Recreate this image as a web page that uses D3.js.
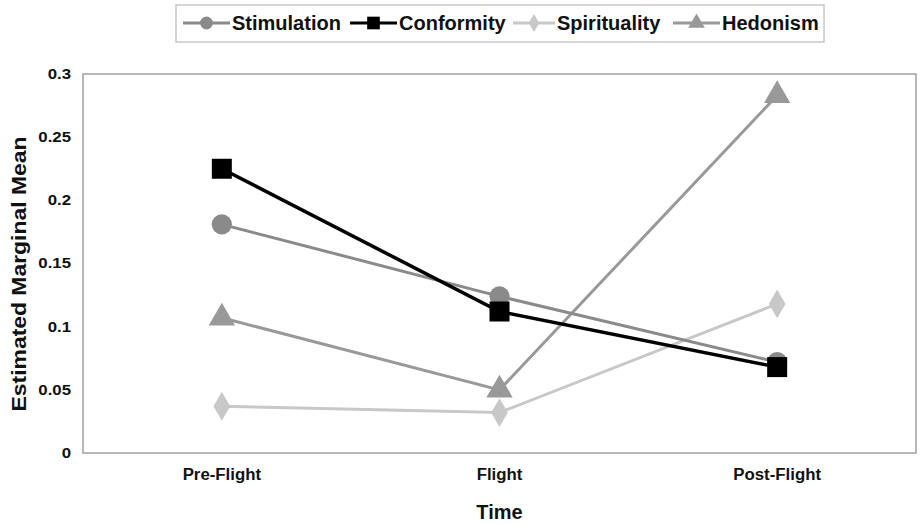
<!DOCTYPE html>
<html><head><meta charset="utf-8">
<script src="https://cdn.jsdelivr.net/npm/d3@7"></script>
<style>body{margin:0;background:#fff}svg{display:block;font-family:"Liberation Sans",Arial,sans-serif}</style>
</head><body><svg id="c" width="922" height="524"></svg>
<script>
const categories = ["Pre-Flight","Flight","Post-Flight"];
const seriesNames = ["Stimulation","Conformity","Spirituality","Hedonism"];
const stimulation = [0.181,0.124,0.072];
const conformity = [0.225,0.112,0.068];
const spirituality = [0.037,0.032,0.118];
const hedonism = [0.107,0.050,0.283];
const yTicks = [0,0.05,0.1,0.15,0.2,0.25,0.3];
const yTickLabels = ["0","0.05","0.1","0.15","0.2","0.25","0.3"];

const series = [
  {name:seriesNames[0], values:stimulation, color:"#8a8a8a", symbol:d3.symbolCircle, size:320},
  {name:seriesNames[1], values:conformity, color:"#000000", symbol:d3.symbolSquare, size:400},
  {name:seriesNames[2], values:spirituality, color:"#c8c8c8", symbol:d3.symbolDiamond, size:240},
  {name:seriesNames[3], values:hedonism, color:"#999999", symbol:d3.symbolTriangle, size:300}
];

const svg = d3.select("#c");
const m = {l:83, r:916, t:74, b:453};
const x = d3.scaleBand().domain(categories).range([m.l, m.r]);
const y = d3.scaleLinear().domain([0,0.3]).range([m.b, m.t]);

function stretch(sel, f){
  sel.each(function(){
    const w = this.getComputedTextLength();
    d3.select(this).attr("textLength", w*f).attr("lengthAdjust","spacingAndGlyphs");
  });
}

// frame
svg.append("rect").attr("x",m.l).attr("y",m.t).attr("width",m.r-m.l).attr("height",m.b-m.t)
  .attr("fill","none").attr("stroke","#a0a0a0").attr("stroke-width",1.5);

// y axis labels
const yAxis = d3.axisLeft(y).tickValues(yTicks).tickFormat((d,i)=>yTickLabels[i]).tickSize(0).tickPadding(12);
const ya = svg.append("g").attr("transform",`translate(${m.l},0)`).call(yAxis);
ya.select(".domain").remove();
ya.selectAll("text").attr("font-size",14).attr("font-weight","bold").attr("fill","#111").attr("font-family","Liberation Sans, Arial, sans-serif");
stretch(ya.selectAll("text"),1.2);

// x axis labels
const xAxis = d3.axisBottom(x).tickSize(0).tickPadding(16);
const xa = svg.append("g").attr("transform",`translate(0,${m.b})`).call(xAxis);
xa.select(".domain").remove();
xa.selectAll("text").attr("font-size",16).attr("font-weight","bold").attr("fill","#111").attr("font-family","Liberation Sans, Arial, sans-serif");
stretch(xa.selectAll("text"),1.05);

// titles
svg.append("text").attr("x",x("Flight")+x.bandwidth()/2).attr("y",519).attr("text-anchor","middle")
  .attr("font-size",20).attr("font-weight","bold").attr("fill","#111").text("Time");
const yt = svg.append("text").attr("transform",`translate(26,274) rotate(-90)`).attr("text-anchor","middle")
  .attr("font-size",20).attr("font-weight","bold").attr("fill","#111").text("Estimated Marginal Mean");
yt.attr("textLength",275).attr("lengthAdjust","spacingAndGlyphs");

// lines
const line = d3.line().x((d,i)=>x(categories[i])+x.bandwidth()/2).y(d=>y(d));
const drawOrder = [2,3,0,1];
drawOrder.forEach(k=>{
  const s = series[k];
  svg.append("path").datum(s.values).attr("d",line).attr("fill","none")
    .attr("stroke",s.color).attr("stroke-width",k===1?3.5:3);
});
drawOrder.forEach(k=>{
  const s = series[k];
  svg.selectAll(null).data(s.values).enter().append("path")
    .attr("d",d3.symbol().type(s.symbol).size(s.size))
    .attr("transform",(d,i)=>`translate(${x(categories[i])+x.bandwidth()/2},${y(d)})`)
    .attr("fill",s.color);
});

// legend
const lg = svg.append("g");
lg.append("rect").attr("x",176).attr("y",5).attr("width",648).attr("height",37)
  .attr("fill","#fff").attr("stroke","#c8c8c8").attr("stroke-width",1.5);
const legX = [183,350,513,673];
const legW = [47,47,42,47];
series.forEach((s,i)=>{
  const g = lg.append("g").attr("transform",`translate(${legX[i]},23)`);
  g.append("line").attr("x1",0).attr("x2",legW[i]).attr("stroke",s.color).attr("stroke-width",3);
  g.append("path").attr("d",d3.symbol().type(s.symbol).size(s.size*0.4)).attr("transform",`translate(${legW[i]/2},0)`).attr("fill",s.color);
  g.append("text").attr("x",legW[i]+2).attr("y",7).attr("font-size",20).attr("font-weight","bold").attr("fill","#111").text(s.name);
});
</script></body></html>
